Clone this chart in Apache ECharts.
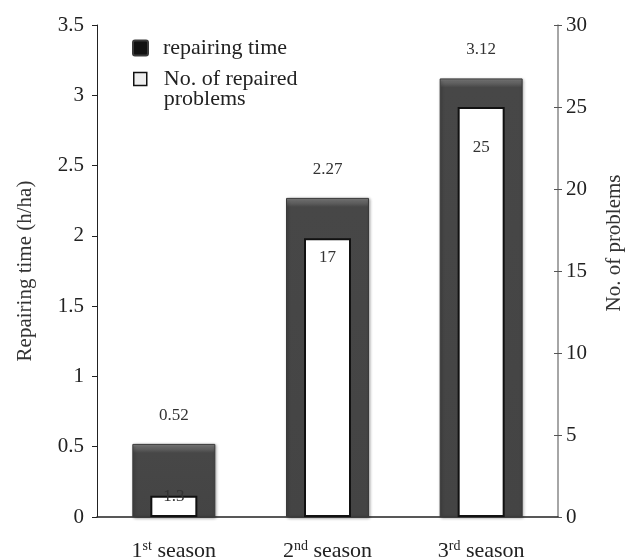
<!DOCTYPE html>
<html>
<head>
<meta charset="utf-8">
<script src="https://cdn.jsdelivr.net/npm/echarts@6/dist/echarts.min.js"></script>
<style>
  html, body { margin: 0; padding: 0; background: #fff; }
  #chart { width: 629px; height: 559px; }
</style>
</head>
<body>
<div id="chart"></div>
<script>
// Seasons on the category axis (number + ordinal suffix)
const seasonNums = ['1', '2', '3'];
const seasonSuffix = ['st', 'nd', 'rd'];

// Repairing time, h/ha (left axis)
const repairTime = [0.52, 2.27, 3.12];
// Number of repaired problems (right axis)
const repairedProblems = [1.3, 17, 25];

// Distance of each problem-count label below its bar top (px)
const countLabelDrop = [0, 19, 40];

const serif = '"Liberation Serif", "DejaVu Serif", serif';

const chart = echarts.init(document.getElementById('chart'), null, { renderer: 'canvas' });

const categories = seasonNums.map((n, i) => n + '|' + seasonSuffix[i]);
const timeName = 'repairing time';
const countName = 'No. of repaired\nproblems';

// small square with slightly rounded corners for the legend
const roundSquare = 'path://M2,0H13Q15,0 15,2V13Q15,15 13,15H2Q0,15 0,13V2Q0,0 2,0Z';

const gridTop = 25, gridBottom = 42, chartHeight = 559;
const plotHeight = chartHeight - gridTop - gridBottom;
const leftMax = 3.5;

// dark bar fill with a lighter bevel strip of fixed pixel height at the top
function bevelFill(value) {
  const barPx = value / leftMax * plotHeight;
  const f = Math.min(0.5, 9 / barPx);
  return {
    type: 'linear', x: 0, y: 0, x2: 0, y2: 1,
    colorStops: [
      { offset: 0, color: '#8c8c8c' },
      { offset: f * 0.35, color: '#6a6a6a' },
      { offset: f, color: '#474747' },
      { offset: 1, color: '#444444' }
    ]
  };
}

chart.setOption({
  animation: false,
  backgroundColor: '#ffffff',
  grid: { left: 97, right: 71, top: gridTop, bottom: gridBottom, containLabel: false, outerBoundsMode: 'none' },
  legend: [
    {
      left: 132,
      top: 37,
      padding: 0,
      itemWidth: 15,
      itemHeight: 15,
      textStyle: { fontFamily: serif, fontSize: 22, color: '#222', padding: [2, 0, 0, 10] },
      data: [{ name: timeName, icon: roundSquare, itemStyle: { color: '#111' } }]
    },
    {
      left: 133,
      top: 48,
      padding: 0,
      itemWidth: 13,
      itemHeight: 13,
      // leading empty line keeps the first text line level with the icon
      formatter: function (name) { return '\n' + name; },
      textStyle: { fontFamily: serif, fontSize: 22, color: '#222', lineHeight: 20, padding: [0, 0, 0, 12] },
      data: [{
        name: countName, icon: 'rect',
        itemStyle: { color: '#eeeeee', borderColor: '#111', borderWidth: 1.5 }
      }]
    }
  ],
  xAxis: [
    {
      type: 'category',
      data: categories,
      axisLine: { lineStyle: { color: '#222', width: 1.5 } },
      axisTick: { show: false },
      axisLabel: {
        margin: 22,
        formatter: function (v) {
          const p = v.split('|');
          return '{n|' + p[0] + '}{s|' + p[1] + '}{n| season}';
        },
        rich: {
          n: { fontFamily: serif, fontSize: 22, color: '#222', verticalAlign: 'bottom' },
          s: { fontFamily: serif, fontSize: 14, color: '#222', verticalAlign: 'top', padding: [0, 0, 9, 0] }
        }
      }
    },
    {
      type: 'category',
      data: categories,
      show: false
    }
  ],
  yAxis: [
    {
      type: 'value',
      min: 0, max: leftMax, interval: 0.5,
      name: 'Repairing time (h/ha)',
      nameLocation: 'middle',
      nameGap: 61,
      nameTextStyle: { fontFamily: serif, fontSize: 21, color: '#333' },
      splitLine: { show: false },
      axisLine: { show: true, lineStyle: { color: '#222', width: 1 } },
      axisTick: { show: true, length: 5, lineStyle: { color: '#222' } },
      axisLabel: { fontFamily: serif, fontSize: 21, color: '#222', margin: 13 }
    },
    {
      type: 'value',
      min: 0, max: 30, interval: 5,
      position: 'right',
      name: 'No. of problems',
      nameLocation: 'middle',
      nameGap: 46,
      nameTextStyle: { fontFamily: serif, fontSize: 21, color: '#333', padding: [0, 0, 0, 56] },
      splitLine: { show: false },
      axisLine: { show: true, lineStyle: { color: '#888', width: 1.5 } },
      axisTick: { show: true, inside: false, length: 4, lineStyle: { color: '#555' } },
      axisLabel: { fontFamily: serif, fontSize: 21, color: '#222', margin: 8 }
    },
    {
      // inner half of the right-hand tick marks
      type: 'value',
      min: 0, max: 30, interval: 5,
      position: 'right',
      splitLine: { show: false },
      axisLine: { show: false },
      axisTick: { show: true, inside: true, length: 4, lineStyle: { color: '#555' } },
      axisLabel: { show: false }
    }
  ],
  series: [
    {
      name: timeName,
      type: 'bar',
      xAxisIndex: 0,
      yAxisIndex: 0,
      barWidth: 83,
      data: repairTime.map(v => ({ value: v, itemStyle: { color: bevelFill(v) } })),
      itemStyle: {
        color: '#464646',
        borderColor: '#3a3a3a',
        borderWidth: 1,
        shadowBlur: 3,
        shadowColor: 'rgba(0,0,0,0.35)',
        shadowOffsetX: 1,
        shadowOffsetY: 1
      },
      label: {
        show: true,
        position: 'top',
        distance: 20,
        fontFamily: serif,
        fontSize: 17,
        color: '#333'
      },
      z: 2
    },
    {
      name: countName,
      type: 'bar',
      xAxisIndex: 1,
      yAxisIndex: 1,
      barWidth: 47,
      data: repairedProblems.map((v, i) => ({
        value: v,
        label: { offset: [0, countLabelDrop[i] - 8] }
      })),
      itemStyle: { color: '#ffffff', borderColor: '#111', borderWidth: 2 },
      label: {
        show: true,
        position: 'insideTop',
        distance: 0,
        fontFamily: serif,
        fontSize: 17,
        color: '#333'
      },
      z: 3
    }
  ]
});
</script>
</body>
</html>
